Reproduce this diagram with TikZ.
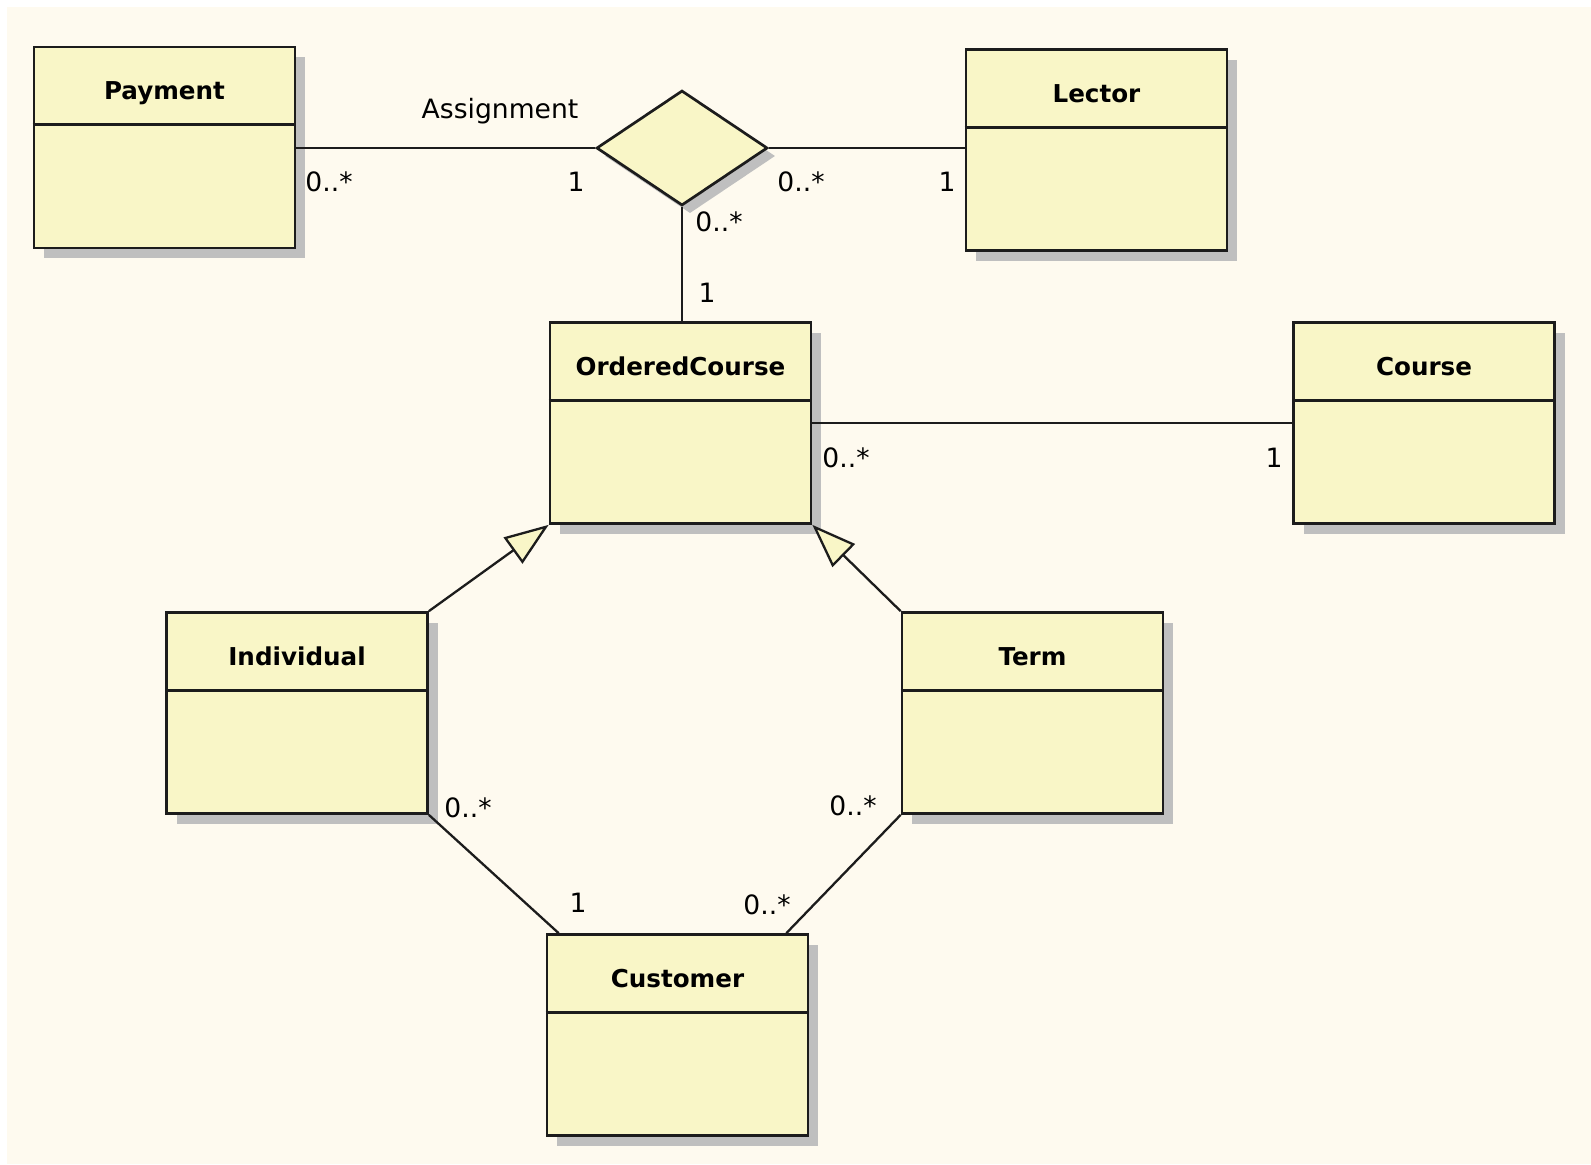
\documentclass[tikz,border=0pt]{standalone}
\usepackage{fontspec}
\setmainfont{DejaVu Sans}
\usetikzlibrary{shapes.geometric,arrows.meta,shadows,calc}

\definecolor{classfill}{RGB}{249,246,199}
\definecolor{paper}{RGB}{254,250,239}
\definecolor{umlline}{RGB}{28,28,28}

\tikzset{
  classbox/.style={draw=umlline, line width=1.35pt, fill=classfill,
    minimum width=130.5pt, minimum height=100.5pt, inner sep=0pt,
    drop shadow={shadow xshift=5pt, shadow yshift=-5pt, fill=black!25, opacity=1}},
  assoc/.style={diamond, draw=umlline, line width=1.35pt, fill=classfill,
    minimum width=85.5pt, minimum height=57.5pt, inner sep=0pt,
    drop shadow={shadow xshift=4pt, shadow yshift=-4pt, fill=black!25, opacity=1}},
  divider/.style={draw=umlline, line width=1.35pt},
  classname/.style={font=\bfseries\fontsize{12.3pt}{14pt}\selectfont, inner sep=0pt},
  mult/.style={font=\fontsize{13.3pt}{15pt}\selectfont, inner sep=0pt},
  assocline/.style={draw=umlline, line width=1.15pt},
  inherit/.style={assocline, -{Triangle[length=22pt, width=16pt, fill=classfill]}}
}

\begin{document}
\begin{tikzpicture}[x=0.5pt, y=-0.5pt]
\useasboundingbox (0,0) rectangle (1591,1164);
\fill[white] (0,0) rectangle (1591,1164);
\fill[paper] (7,7) rectangle (1591,1164);

% classes
\foreach \cls/\title/\px/\py in {payment/Payment/164.5/147.5, lector/Lector/1096.5/150,
    ordered/OrderedCourse/680.5/423, course/Course/1424/423,
    individual/Individual/297/713, term/Term/1032.5/713, customer/Customer/677.5/1035}{
  \node[classbox] (\cls) at (\px,\py) {};
  \draw[divider] ($(\cls.north west)+(0,79)$) -- ($(\cls.north east)+(0,79)$);
  \node[classname, anchor=base] (\cls-name) at ($(\cls.north)+(0,54)$) {\title};
}

% association class diamond
\node[assoc] (assign) at (682,148) {};
\node[mult, anchor=base] (assign-name) at (500,118) {Assignment};

% connectors
\draw[assocline] (assign.west) -- (assign.west -| payment.east);
\draw[assocline] (assign.east) -- (assign.east -| lector.west);
\draw[assocline] (assign.south) -- (assign.south |- ordered.north);
\draw[assocline] (ordered.east) -- (course.west);
\draw[inherit] (individual.north east) -- (ordered.south west);
\draw[inherit] (term.north west) -- (ordered.south east);
\coordinate (custleft) at ($(customer.north west)+(13,0)$);
\coordinate (custright) at ($(customer.north east)+(-23,0)$);
\draw[assocline] (individual.south east) -- (custleft);
\draw[assocline] (term.south west) -- (custright);

% multiplicities
\node[mult] (m-pay) at (329,182) {0..*};
\node[mult] (m-assign-l) at (576,182) {1};
\node[mult] (m-assign-r) at (801,182) {0..*};
\node[mult] (m-lector) at (947,182) {1};
\node[mult] (m-assign-b) at (719,222) {0..*};
\node[mult] (m-ordered-t) at (707,293) {1};
\node[mult] (m-ordered-r) at (846,458) {0..*};
\node[mult] (m-course) at (1274,458) {1};
\node[mult] (m-indiv) at (468,808) {0..*};
\node[mult] (m-cust-l) at (578,903) {1};
\node[mult] (m-term) at (853,806) {0..*};
\node[mult] (m-cust-r) at (767,905) {0..*};
\end{tikzpicture}
\end{document}
